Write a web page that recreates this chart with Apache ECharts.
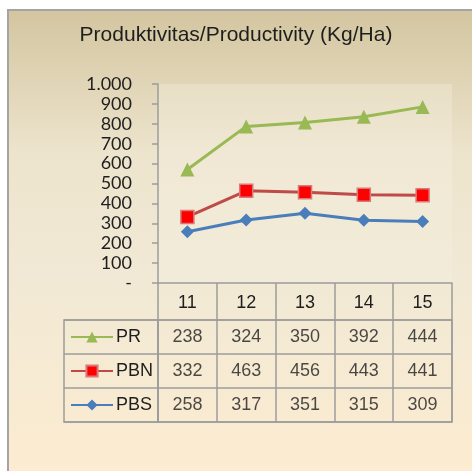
<!DOCTYPE html>
<html>
<head>
<meta charset="utf-8">
<script src="https://cdn.jsdelivr.net/npm/echarts@6/dist/echarts.min.js"></script>
<style>
  html, body { margin: 0; padding: 0; background: #ffffff; }
  #chart { width: 472px; height: 471px; }
</style>
</head>
<body>
<div id="chart"></div>
<script>
// data
var categories = ['11', '12', '13', '14', '15'];
var rowNames = ['PR', 'PBN', 'PBS'];
var prValues = [238, 324, 350, 392, 444];
var pbnValues = [332, 463, 456, 443, 441];
var pbsValues = [258, 317, 351, 315, 309];

var NARROW = "'Liberation Sans Narrow', 'Arial Narrow', 'Liberation Sans', sans-serif";
var GRID_LINE = '#9c9c9c';
var TXT = '#1e1e1e';

var myChart = echarts.init(document.getElementById('chart'), null, { renderer: 'canvas' });

// cells for the data table
var tableCells = [];
var rows = { PR: prValues, PBN: pbnValues, PBS: pbsValues };
rowNames.forEach(function (r) {
    rows[r].forEach(function (v, i) {
        tableCells.push([categories[i], r, v]);
    });
});

var option = {
    animation: false,
    graphic: [{
        type: 'rect',
        z: -10,
        shape: { x: 8, y: 10, width: 480, height: 480 },
        style: {
            fill: new echarts.graphic.LinearGradient(0, 0, 0, 1, [
                { offset: 0, color: '#d3c59f' },
                { offset: 0.3, color: '#ede4cd' },
                { offset: 0.55, color: '#f1e9d5' },
                { offset: 1, color: '#fdecd0' }
            ]),
            stroke: '#a4a4a4',
            lineWidth: 2
        }
    }],
    title: {
        text: 'Produktivitas/Productivity (Kg/Ha)',
        left: 'center',
        top: 20,
        textStyle: { fontFamily: NARROW, fontSize: 21, fontWeight: 'normal', color: TXT }
    },
    legend: {
        orient: 'vertical',
        left: 70,
        top: 328,
        padding: 0,
        itemWidth: 42,
        itemHeight: 14,
        itemGap: 16,
        data: ['PR', 'PBN', 'PBS'],
        textStyle: { fontFamily: NARROW, fontSize: 18, color: TXT, padding: [0, 0, 0, -2] }
    },
    grid: [
        { left: 158, right: 20, top: 84, height: 199, show: true, backgroundColor: 'rgba(245,240,225,0.35)', borderWidth: 0 },
        { left: 158, right: 20, top: 320, height: 102, show: true, borderColor: GRID_LINE, borderWidth: 1.5 },
        { left: 64, width: 94, top: 320, height: 102, show: true, borderColor: GRID_LINE, borderWidth: 1.5 }
    ],
    xAxis: [
        {
            gridIndex: 0,
            type: 'category',
            data: categories,
            boundaryGap: true,
            axisLine: { lineStyle: { color: GRID_LINE, width: 1.5 } },
            axisTick: { show: true, interval: 0, length: 37, alignWithLabel: false, lineStyle: { color: GRID_LINE, width: 1.5 } },
            axisLabel: { margin: 11, fontFamily: NARROW, fontSize: 18, color: TXT }
        },
        {
            gridIndex: 1,
            type: 'category',
            data: categories,
            boundaryGap: true,
            axisLine: { show: false },
            axisTick: { show: false },
            axisLabel: { show: false },
            splitLine: { show: true, interval: 0, lineStyle: { color: GRID_LINE, width: 1.5 } }
        },
        {
            gridIndex: 2,
            type: 'value',
            show: false
        }
    ],
    yAxis: [
        {
            gridIndex: 0,
            type: 'value',
            min: 0,
            max: 1000,
            interval: 100,
            axisLine: { show: true, lineStyle: { color: GRID_LINE, width: 1.5 } },
            axisTick: { show: true, length: 6, lineStyle: { color: GRID_LINE, width: 1.5 } },
            splitLine: { show: false },
            axisLabel: {
                margin: 26,
                fontFamily: "Lato, 'Open Sans', sans-serif",
                fontSize: 18,
                color: TXT,
                formatter: function (v) {
                    if (v === 0) return '-';
                    return String(v).replace(/(\d)(?=(\d{3})+$)/g, '$1.');
                }
            }
        },
        {
            gridIndex: 1,
            type: 'category',
            data: rowNames,
            inverse: true,
            axisLine: { show: false },
            axisTick: { show: false },
            axisLabel: { show: false },
            splitLine: { show: true, interval: 0, lineStyle: { color: GRID_LINE, width: 1.5 } }
        },
        {
            gridIndex: 2,
            type: 'category',
            data: rowNames,
            inverse: true,
            axisLine: { show: false },
            axisTick: { show: false },
            axisLabel: { show: false },
            splitLine: { show: true, interval: 0, lineStyle: { color: GRID_LINE, width: 1.5 } }
        }
    ],
    series: [
        {
            name: 'PBS',
            type: 'line',
            data: pbsValues,
            symbol: 'diamond',
            symbolSize: 13,
            lineStyle: { color: '#4a7ebb', width: 3 },
            itemStyle: { color: '#4a7ebb' }
        },
        {
            name: 'PBN',
            type: 'line',
            stack: 'atas',
            data: pbnValues,
            symbol: 'rect',
            symbolSize: 13,
            lineStyle: { color: '#be4b48', width: 3 },
            itemStyle: { color: '#ff0000', borderColor: '#d87a78', borderWidth: 1.5 }
        },
        {
            name: 'PR',
            type: 'line',
            stack: 'atas',
            data: prValues,
            symbol: 'triangle',
            symbolSize: 14,
            lineStyle: { color: '#98b954', width: 3 },
            itemStyle: { color: '#98b954' }
        },
        {
            name: 'table',
            type: 'scatter',
            xAxisIndex: 1,
            yAxisIndex: 1,
            data: tableCells,
            symbolSize: 1,
            itemStyle: { color: 'rgba(0,0,0,0)' },
            label: {
                show: true,
                position: 'inside',
                fontFamily: NARROW,
                fontSize: 18,
                color: TXT,
                formatter: function (p) { return p.value[2]; }
            },
            silent: true
        }
    ]
};
myChart.setOption(option);
</script>
</body>
</html>
